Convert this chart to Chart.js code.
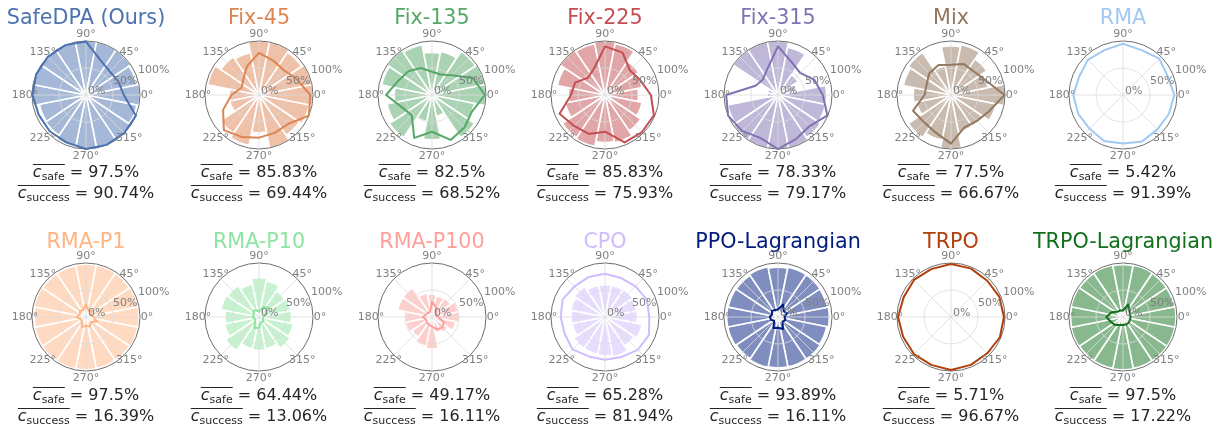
<!DOCTYPE html>
<html>
<head>
<meta charset="utf-8">
<script src="https://cdn.jsdelivr.net/npm/chart.js@4/dist/chart.umd.min.js"></script>
<style>
  html, body { margin: 0; padding: 0; background: #fff; overflow: hidden; }
  #fig { position: relative; width: 1217px; height: 424px; overflow: hidden;
         font-family: "DejaVu Sans", sans-serif; }
  #fig canvas { position: absolute; }
  .title { position: absolute; white-space: nowrap; font-size: 20.7px; line-height: 24px;
           height: 24px; transform: translateX(-50%); }
  .metric { position: absolute; white-space: nowrap; font-size: 16px; line-height: 20px;
            height: 20px; transform: translateX(-50%); color: #262626; }
  .ov { display: inline-block; border-top: 1.2px solid #262626; line-height: 14px; }
  .ov i { font-style: italic; }
  .ov sub { font-size: 11px; vertical-align: -3px; line-height: 0; }
</style>
</head>
<body>
<div id="fig"></div>
<script>
// ---- data -----------------------------------------------------------------
const methodNames = [
  'SafeDPA (Ours)', 'Fix-45', 'Fix-135', 'Fix-225', 'Fix-315', 'Mix', 'RMA',
  'RMA-P1', 'RMA-P10', 'RMA-P100', 'CPO', 'PPO-Lagrangian', 'TRPO', 'TRPO-Lagrangian'
];

// direction of each sector in degrees (counter-clockwise from east)
const directions = [0, 22.5, 45, 67.5, 90, 112.5, 135, 157.5,
                    180, 202.5, 225, 247.5, 270, 292.5, 315, 337.5];

// angular tick labels and radial tick values (%)
const thetaTicks = [0, 45, 90, 135, 180, 225, 270, 315];
const radialTicks = [0, 50, 100];

// safety rate per direction (%), drawn as bars
const safetyRates = [
  [100, 96, 100, 100, 100, 100, 100, 100, 100, 88, 90, 98, 100, 100, 100, 96],
  [100, 100, 95, 100, 100, 80, 85, 97, 55, 55, 85, 95, 70, 100, 90, 95],
  [100, 100, 97, 82, 79, 95, 100, 95, 70, 85, 95, 50, 83, 40, 95, 80],
  [62, 70, 75, 97, 100, 97, 100, 90, 68, 75, 95, 97, 88, 90, 80, 70],
  [90, 35, 45, 90, 100, 100, 100, 20, 20, 95, 100, 100, 100, 100, 95, 90],
  [100, 70, 80, 95, 91, 55, 95, 90, 70, 65, 95, 85, 100, 70, 70, 85],
  [5, 6, 4, 5, 7, 5, 6, 5, 4, 6, 5, 7, 5, 6, 5, 6],
  [98, 98, 97, 98, 98, 97, 97, 98, 96, 97, 98, 98, 98, 97, 97, 98],
  [60, 60, 58, 68, 73, 62, 70, 72, 63, 65, 75, 60, 62, 60, 70, 65],
  [51, 50, 42, 40, 42, 45, 65, 65, 50, 50, 45, 55, 59, 30, 35, 45],
  [60, 60, 62, 60, 60, 60, 68, 65, 63, 62, 70, 70, 72, 75, 65, 70],
  [95, 93, 94, 94, 92, 95, 93, 94, 95, 95, 93, 95, 94, 94, 94, 92],
  [6, 5, 7, 5, 6, 6, 5, 6, 5, 7, 6, 5, 6, 5, 6, 6],
  [98, 97, 97, 98, 97, 98, 97, 98, 97, 98, 97, 97, 98, 97, 98, 98]
];

// success rate per direction (%), drawn as a closed line
const successRates = [
  [70, 65, 62, 70, 99, 100, 100, 100, 99, 95, 95, 95, 100, 100, 100, 100],
  [95, 76, 65, 69, 78, 58, 41, 35, 51, 72, 92, 84, 79, 76, 76, 100],
  [98, 82, 52, 41, 43, 54, 62, 68, 85, 60, 53, 86, 68, 90, 85, 80],
  [85, 71, 65, 85, 90, 53, 45, 60, 63, 91, 81, 78, 68, 95, 97, 98],
  [83, 73, 58, 66, 90, 52, 40, 45, 96, 100, 94, 86, 100, 88, 82, 99],
  [99, 70, 61, 62, 56, 60, 57, 49, 49, 76, 71, 75, 90, 65, 68, 77],
  [95, 90, 95, 90, 95, 90, 92, 88, 92, 90, 88, 92, 90, 93, 90, 92],
  [14, 10, 15, 13, 23, 14, 16, 12, 18, 10, 11, 20, 16, 19, 13, 22],
  [8, 12, 25, 20, 10, 14, 15, 10, 12, 8, 10, 22, 20, 10, 12, 8],
  [11, 8, 12, 20, 28, 10, 11, 12, 17, 12, 14, 15, 18, 25, 27, 24],
  [82, 84, 80, 78, 80, 80, 80, 85, 82, 81, 85, 79, 79, 80, 86, 88],
  [12, 18, 15, 25, 14, 14, 16, 12, 15, 14, 10, 22, 20, 24, 12, 15],
  [98, 97, 95, 97, 98, 96, 97, 95, 98, 96, 97, 96, 98, 96, 95, 98],
  [14, 14, 17, 25, 12, 13, 14, 23, 31, 24, 21, 16, 15, 15, 15, 14]
];

// averaged rates printed under each panel (%)
const meanSafety  = ['97.5', '85.83', '82.5', '85.83', '78.33', '77.5', '5.42',
                     '97.5', '64.44', '49.17', '65.28', '93.89', '5.71', '97.5'];
const meanSuccess = ['90.74', '69.44', '68.52', '75.93', '79.17', '66.67', '91.39',
                     '16.39', '13.06', '16.11', '81.94', '16.11', '96.67', '17.22'];

// ---- style ----------------------------------------------------------------
const methodColors = [
  '#4c72b0', '#dd8452', '#55a868', '#c44e52', '#8172b3', '#937860', '#a1c9f4',
  '#ffb482', '#8de5a1', '#ff9f9b', '#d0bbff', '#001c7f', '#b1400d', '#12711c'
];
const colCenters = [86, 259, 432, 605, 778, 951, 1123];
const rowCenters = [95, 317];
const titleY = [17, 241];
const metricY = [[172, 193], [395, 416]];
const RADIUS = 54;
const CANVAS_W = 174, CANVAS_H = 150;
const gridColor = '#dcdcdc';
const spineColor = '#6e6e6e';
const tickColor = '#808080';

function withAlpha(hex, a) {
  const n = parseInt(hex.slice(1), 16);
  return `rgba(${(n >> 16) & 255}, ${(n >> 8) & 255}, ${n & 255}, ${a})`;
}

// Chart.js walks the radial scale clockwise from its start angle; the data are
// listed counter-clockwise from east, so re-index them for the scale.
const toScaleOrder = arr => arr.map((_, i) => arr[(arr.length - i) % arr.length]);
const indexOfDirection = deg => (directions.length - directions.indexOf(deg)) % directions.length;

const padX = (CANVAS_W - 2 * RADIUS) / 2;
const padY = (CANVAS_H - 2 * RADIUS) / 2;

const polarTickLabels = {
  id: 'polarTickLabels',
  afterDraw(chart) {
    const s = chart.scales.r;
    const ctx = chart.ctx;
    ctx.save();
    ctx.font = '11px "DejaVu Sans"';
    ctx.fillStyle = tickColor;
    ctx.textAlign = 'center';
    ctx.textBaseline = 'middle';
    thetaTicks.forEach(deg => {
      const p = s.getPointPosition(indexOfDirection(deg), s.drawingArea + 7);
      ctx.fillText(deg + '°', p.x, p.y);
    });
    ctx.textAlign = 'left';
    ctx.textBaseline = 'alphabetic';
    const rIdx = indexOfDirection(22.5);
    radialTicks.forEach(v => {
      const p = s.getPointPosition(rIdx, s.getDistanceFromCenterForValue(v));
      ctx.fillText(v + '%', p.x + 2, p.y - 1);
    });
    ctx.restore();
  }
};

const fig = document.getElementById('fig');

function addCanvas(left, top) {
  const c = document.createElement('canvas');
  c.width = CANVAS_W; c.height = CANVAS_H;
  c.style.left = left + 'px'; c.style.top = top + 'px';
  c.style.width = CANVAS_W + 'px'; c.style.height = CANVAS_H + 'px';
  fig.appendChild(c);
  return c;
}

function baseOptions(startAngle, gridOpts) {
  return {
    responsive: false,
    animation: false,
    events: [],
    devicePixelRatio: 1,
    layout: { padding: { left: padX, right: padX, top: padY, bottom: padY } },
    plugins: { legend: { display: false }, tooltip: { enabled: false } },
    scales: {
      r: Object.assign({
        min: 0, max: 100, startAngle,
        ticks: { display: false, stepSize: 50 },
        pointLabels: { display: false }
      }, gridOpts)
    }
  };
}

methodNames.forEach((name, idx) => {
  const row = Math.floor(idx / 7), col = idx % 7;
  const cx = colCenters[col], cy = rowCenters[row];
  const color = methodColors[idx];
  const labels = toScaleOrder(directions.map(d => d + '°'));
  const left = cx - (padX + RADIUS);
  const top = cy - (padY + RADIUS);

  // bars: one sector per direction, centred on it
  const barCanvas = addCanvas(left, top);
  new Chart(barCanvas, {
    type: 'polarArea',
    data: {
      labels,
      datasets: [{
        data: toScaleOrder(safetyRates[idx]),
        backgroundColor: withAlpha(color, 0.5),
        borderColor: '#ffffff',
        borderWidth: 1.6
      }]
    },
    options: baseOptions(90 - 360 / directions.length / 2, {
      grid: { display: false },
      angleLines: { display: false }
    })
  });

  // grid, success line and tick labels
  const lineCanvas = addCanvas(left, top);
  new Chart(lineCanvas, {
    type: 'radar',
    data: {
      labels,
      datasets: [{
        data: toScaleOrder(successRates[idx]),
        borderColor: color,
        borderWidth: 2,
        borderJoinStyle: 'round',
        fill: false,
        pointRadius: 0,
        tension: 0,
        clip: false
      }]
    },
    options: baseOptions(90, {
      grid: {
        circular: true,
        color: c => (c.tick && c.tick.value === 100 ? spineColor : gridColor),
        lineWidth: c => (c.tick && c.tick.value === 100 ? 1 : 0.8)
      },
      angleLines: {
        color: gridColor,
        lineWidth: c => (directions[(directions.length - c.index) % directions.length] % 45 === 0 ? 0.8 : 0)
      }
    }),
    plugins: [polarTickLabels]
  });

  const t = document.createElement('div');
  t.className = 'title';
  t.textContent = name;
  t.style.color = color;
  t.style.left = cx + 'px';
  t.style.top = (titleY[row] - 11.6) + 'px';
  fig.appendChild(t);

  const lines = [['safe', meanSafety[idx]], ['success', meanSuccess[idx]]];
  lines.forEach(([sub, val], j) => {
    const m = document.createElement('div');
    m.className = 'metric';
    m.innerHTML = `<span class="ov"><i>c</i><sub>${sub}</sub></span> = ${val}%`;
    m.style.left = cx + 'px';
    m.style.top = (metricY[row][j] - 10) + 'px';
    fig.appendChild(m);
  });
});
</script>
</body>
</html>
